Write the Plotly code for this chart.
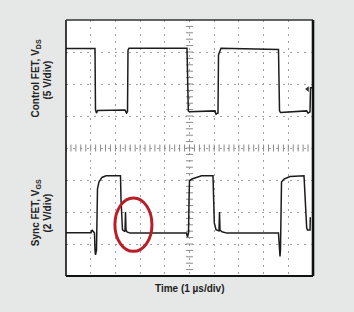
import numpy as np
import plotly.graph_objects as go

# Time axis in divisions (1 µs/div); vertical positions in screen divisions (0 = bottom, 8 = top)
ch1_t = [0.0, 1.174, 1.194, 1.235, 1.275, 2.389, 2.449, 2.490, 2.510, 2.551,
         4.899, 4.939, 4.951, 5.0, 6.032, 6.073, 6.154, 6.174, 6.255, 6.275,
         8.603, 8.644, 8.684, 9.745, 9.798, 9.879, 9.899, 9.96]
ch1_v = [7.11, 7.11, 5.19, 5.09, 5.17, 5.19, 5.09, 5.13, 7.06, 7.12,
         7.12, 6.13, 5.16, 5.13, 5.16, 5.06, 5.09, 6.91, 7.09, 7.12,
         7.08, 5.16, 5.11, 5.16, 5.09, 5.13, 5.88, 5.88]

ch2_t = [0.0, 1.012, 1.053, 1.093, 1.154, 1.174, 1.194, 1.235, 1.255, 1.275,
         1.336, 1.457, 1.619, 2.206, 2.227, 2.255, 2.287, 2.389, 2.409, 2.429,
         2.470, 2.591, 2.753, 4.879, 4.919, 4.960, 4.980, 5.0, 5.101, 5.486,
         5.951, 6.004, 6.073, 6.194, 6.215, 6.235, 6.316, 6.518, 8.603, 8.644,
         8.664, 8.684, 8.704, 8.725, 8.826, 9.069, 9.636, 9.676, 9.696, 9.745,
         9.777, 9.879, 9.891, 9.919]
ch2_v = [1.35, 1.35, 1.44, 1.38, 1.34, 0.81, 0.66, 0.81, 2.38, 2.72,
         2.94, 3.08, 3.13, 3.13, 2.38, 1.50, 1.44, 1.39, 2.00, 1.44,
         1.38, 1.34, 1.34, 1.34, 1.22, 1.34, 2.38, 2.97, 3.03, 3.13,
         3.13, 1.66, 1.45, 1.41, 2.00, 1.44, 1.38, 1.34, 1.34, 0.97,
         0.61, 0.81, 2.38, 2.94, 3.03, 3.11, 3.13, 2.38, 1.91, 1.50,
         1.44, 1.44, 1.81, 1.81]

ch1_label = "<b>Control FET, V<sub>DS</sub></b>"
ch1_scale = "<b>(5 V/div)</b>"
ch2_label = "<b>Sync FET, V<sub>GS</sub></b>"
ch2_scale = "<b>(2 V/div)</b>"
time_label = "<b>Time (1 µs/div)</b>"

# highlight ellipse around the ringing spike (data coords)
ring_box = [1.98, 3.48, 0.77, 2.44]

W, H = 354, 312
L, R, T, B = 66, 313, 20, 276
pw, ph = R - L, B - T

def px(xpix):
    return (xpix - L) / pw

def py(ypix):
    return (B - ypix) / ph

fig = go.Figure()

# graticule centre-line ticks
cx = np.round(np.arange(0, 10.001, 0.2), 3)
cy = np.round(np.arange(0, 8.001, 0.2), 3)
fig.add_trace(go.Scatter(x=cx, y=[4] * len(cx), mode="markers",
                         marker=dict(symbol="line-ns", size=5, line=dict(width=1, color="#8a8a8a")),
                         hoverinfo="skip", showlegend=False))
fig.add_trace(go.Scatter(x=[5] * len(cy), y=cy, mode="markers",
                         marker=dict(symbol="line-ew", size=5, line=dict(width=1, color="#8a8a8a")),
                         hoverinfo="skip", showlegend=False))

fig.add_trace(go.Scatter(x=ch1_t, y=ch1_v, mode="lines",
                         line=dict(color="#1c1c1c", width=1.5), showlegend=False))
fig.add_trace(go.Scatter(x=ch2_t, y=ch2_v, mode="lines",
                         line=dict(color="#1c1c1c", width=1.5), showlegend=False))
# channel reference marker
fig.add_trace(go.Scatter(x=[9.78], y=[5.84], mode="markers",
                         marker=dict(symbol="triangle-left", size=5, color="#333"),
                         showlegend=False, hoverinfo="skip"))

fig.add_shape(type="circle", xref="x", yref="y",
              x0=ring_box[0], x1=ring_box[1], y0=ring_box[2], y1=ring_box[3],
              line=dict(color="#b81e28", width=3))

# frame
fig.add_shape(type="line", xref="paper", yref="paper", x0=0, x1=0, y0=0, y1=1,
              line=dict(color="#111", width=1.6))
fig.add_shape(type="line", xref="paper", yref="paper", x0=0, x1=1, y0=1, y1=1,
              line=dict(color="#333", width=1.4))
fig.add_shape(type="line", xref="paper", yref="paper", x0=1, x1=1, y0=0, y1=1,
              line=dict(color="#111", width=2.6))
fig.add_shape(type="line", xref="paper", yref="paper", x0=0, x1=1, y0=0, y1=0,
              line=dict(color="#111", width=2.2))

font = dict(family="Liberation Sans, Arial, sans-serif", size=10, color="#222")
for txt, x, y in [(ch1_label, 35.5, 79), (ch1_scale, 46.5, 80),
                  (ch2_label, 35.5, 212.7), (ch2_scale, 46.5, 213)]:
    fig.add_annotation(text=txt, xref="paper", yref="paper", x=px(x), y=py(y),
                       xanchor="center", yanchor="middle", textangle=-90,
                       showarrow=False, font=font)
fig.add_annotation(text=time_label, xref="paper", yref="paper", x=px(190), y=py(288.5),
                   xanchor="center", yanchor="middle", showarrow=False, font=font)

axis_common = dict(showticklabels=False, zeroline=False, showline=False,
                   showgrid=True, gridcolor="#a0a0a0", gridwidth=1, griddash="2px,5px",
                   ticks="", fixedrange=True)
fig.update_xaxes(range=[0, 10], dtick=1, tick0=0, **axis_common)
fig.update_yaxes(range=[0, 8], dtick=1, tick0=0, **axis_common)

fig.update_layout(width=W, height=H,
                  margin=dict(l=L, r=W - R, t=T, b=H - B, pad=0),
                  paper_bgcolor="#e6e7e7", plot_bgcolor="#ffffff",
                  showlegend=False)

fig.write_html("out.html", config={"displayModeBar": False})
